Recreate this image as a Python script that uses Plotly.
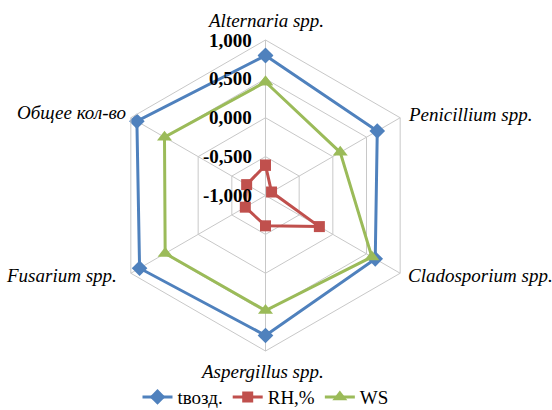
import math
import plotly.graph_objects as go

# Categories (clockwise from the top)
categories = ["Alternaria spp.", "Penicillium spp.", "Cladosporium spp.",
              "Aspergillus spp.", "Fusarium spp.", "Общее кол-во"]

# Correlation values per series
t_air = [0.80, 0.66, 0.63, 0.80, 0.87, 0.91]
rh = [-0.61, -0.91, -0.20, -0.61, -0.70, -0.72]
ws = [0.46, 0.11, 0.58, 0.48, 0.49, 0.50]

series_names = ["tвозд.", "RH,%", "WS"]
radial_ticks = [-1.0, -0.5, 0.0, 0.5, 1.0]
r_min, r_max = -1.0, 1.0

FONT = "Liberation Serif, Times New Roman, serif"
GRID = "#c8c8c8"


def closed(vals):
    return vals + vals[:1]


def to_radius(vals):
    # plotly's polar point culling assumes a non-negative radial range,
    # so the radial axis runs from 0 at the value r_min
    return [v - r_min for v in vals]


fig = go.Figure()
styles = [
    (t_air, "#4F81BD", "diamond", 12),
    (rh, "#C0504D", "square", 11),
    (ws, "#9BBB59", "triangle-up", 13),
]
for name, (vals, color, symbol, size) in zip(series_names, styles):
    fig.add_trace(go.Scatterpolar(
        r=to_radius(closed(vals)),
        theta=closed(categories),
        customdata=closed(vals),
        hovertemplate="%{theta}: %{customdata:.3f}<extra>" + name + "</extra>",
        name=name,
        mode="lines+markers",
        line=dict(color=color, width=3),
        marker=dict(color=color, symbol=symbol, size=size,
                    line=dict(width=0)),
    ))

# Radial tick labels, placed left of the vertical spoke at each ring level
for v in radial_ticks:
    frac = (v - r_min) / (r_max - r_min)
    fig.add_annotation(
        xref="paper", yref="paper",
        x=0.5, y=0.5 + 0.5 * frac,
        xanchor="right", yanchor="middle",
        xshift=-12,
        showarrow=False,
        text=f"<b>{v:.3f}</b>".replace(".", ","),
        font=dict(family=FONT, size=19, color="black"),
    )

# Category labels just outside each outer vertex
label_place = [
    ("center", 0, 20),
    ("left", 6, 3),
    ("left", 6, -2),
    ("center", -4, -20),
    ("right", -12, -2),
    ("right", -3, 5),
]
n = len(categories)
for i, (cat, (xa, dx, dy)) in enumerate(zip(categories, label_place)):
    ang = 2 * math.pi * i / n
    fig.add_annotation(
        xref="paper", yref="paper",
        x=0.5 + 0.5 * math.sin(ang), y=0.5 + 0.5 * math.cos(ang),
        xanchor=xa, yanchor="middle",
        xshift=dx, yshift=dy,
        showarrow=False,
        text=f"<i>{cat}</i>",
        font=dict(family=FONT, size=19, color="black"),
    )

fig.update_layout(
    width=552,
    height=410,
    margin=dict(l=110, r=131, t=40, b=59, autoexpand=False),
    paper_bgcolor="white",
    plot_bgcolor="white",
    font=dict(family=FONT, color="black"),
    polar=dict(
        bgcolor="white",
        gridshape="linear",
        domain=dict(x=[0, 1], y=[0, 1]),
        angularaxis=dict(
            rotation=90,
            direction="clockwise",
            categoryorder="array",
            categoryarray=categories,
            gridcolor=GRID,
            linecolor=GRID,
            linewidth=1,
            showline=True,
            ticks="",
            showticklabels=False,
        ),
        radialaxis=dict(
            range=to_radius([r_min, r_max]),
            angle=90,
            tickvals=to_radius(radial_ticks),
            showticklabels=False,
            showline=False,
            gridcolor=GRID,
            ticks="",
        ),
    ),
    legend=dict(
        orientation="h",
        x=0.5,
        xanchor="center",
        y=-0.148,
        yanchor="middle",
        font=dict(family="Liberation Serif", size=19, color="black"),
        bgcolor="rgba(0,0,0,0)",
    ),
)

fig.write_html("out.html")
